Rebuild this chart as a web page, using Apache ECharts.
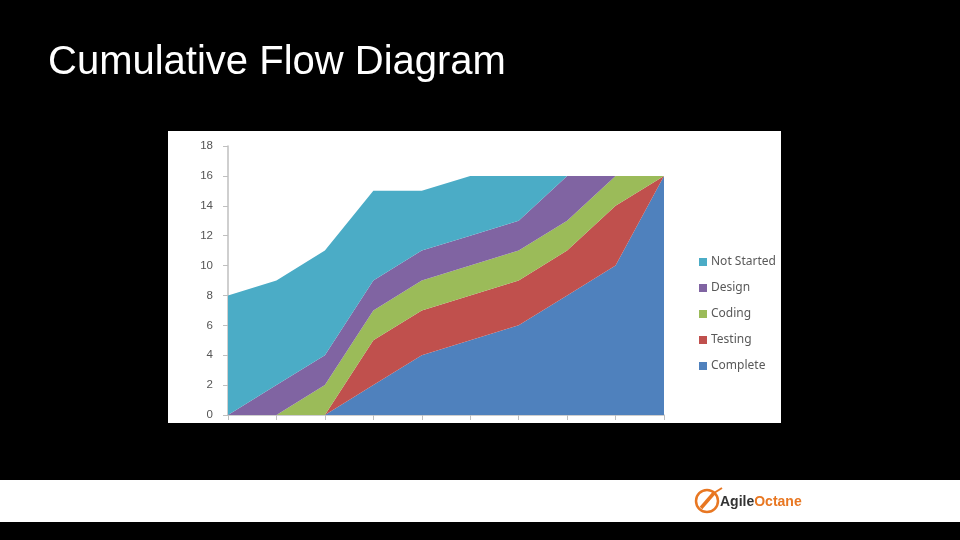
<!DOCTYPE html>
<html>
<head>
<meta charset="utf-8">
<script src="https://cdn.jsdelivr.net/npm/echarts@6/dist/echarts.min.js"></script>
<style>html,body{margin:0;padding:0;background:#000;}#c{width:960px;height:540px;}</style>
</head>
<body>
<div id="c"></div>
<script>
const categories = ['1','2','3','4','5','6','7','8','9','10'];
const complete   = [0, 0, 0, 2, 4, 5, 6, 8, 10, 16];
const testing    = [0, 0, 0, 3, 3, 3, 3, 3, 4, 0];
const coding     = [0, 0, 2, 2, 2, 2, 2, 2, 2, 0];
const design     = [0, 2, 2, 2, 2, 2, 2, 3, 0, 0];
const notStarted = [8, 7, 7, 6, 4, 4, 3, 0, 0, 0];
const yTicks = [0, 2, 4, 6, 8, 10, 12, 14, 16, 18];

const chart = echarts.init(document.getElementById('c'), null, {renderer: 'canvas'});
function area(name, data, color) {
  return {
    name: name, type: 'line', stack: 'total', data: data,
    symbol: 'none', smooth: false,
    lineStyle: {width: 0, color: color},
    itemStyle: {color: color},
    areaStyle: {color: color, opacity: 1},
    emphasis: {disabled: true}
  };
}
chart.setOption({
  backgroundColor: '#000000',
  animation: false,
  graphic: [
    {type: 'rect', shape: {x: 168, y: 131, width: 613, height: 292}, style: {fill: '#ffffff'}, z: -10},
    {type: 'rect', shape: {x: 0, y: 480, width: 960, height: 42}, style: {fill: '#ffffff'}, z: -10},
    {type: 'text', x: 48, y: 63, style: {text: 'Cumulative Flow Diagram', fill: '#ffffff', font: '40px "Liberation Sans", Arial, sans-serif', verticalAlign: 'middle'}},
    {type: 'circle', shape: {cx: 707, cy: 501, r: 11}, style: {fill: 'none', stroke: '#E87722', lineWidth: 2.5}},
    {type: 'line', shape: {x1: 701, y1: 508, x2: 714, y2: 493}, style: {stroke: '#E87722', lineWidth: 3.5}},
    {type: 'line', shape: {x1: 714, y1: 493, x2: 722, y2: 488}, style: {stroke: '#E87722', lineWidth: 2}},
    {type: 'text', x: 720, y: 502, style: {
      text: '{a|Agile}{b|Octane}', verticalAlign: 'middle',
      rich: {
        a: {fill: '#333333', font: 'bold 14px "Liberation Sans", Arial, sans-serif'},
        b: {fill: '#E87722', font: 'bold 14px "Liberation Sans", Arial, sans-serif'}
      }
    }}
  ],
  grid: {left: 228, right: 296, top: 146, bottom: 125, containLabel: false},
  legend: {
    orient: 'vertical', left: 694, top: 250,
    itemWidth: 8, itemHeight: 8, itemGap: 12,
    icon: 'rect',
    data: ['Not Started', 'Design', 'Coding', 'Testing', 'Complete'],
    textStyle: {color: '#595959', fontSize: 12, fontFamily: '"Noto Sans", "Open Sans", sans-serif', lineHeight: 14, padding: [0,0,0,-1]},
    selectedMode: false
  },
  xAxis: {
    type: 'category', data: categories, boundaryGap: false,
    axisLine: {show: true, lineStyle: {color: '#BFBFBF', width: 1.5}},
    axisTick: {show: true, alignWithLabel: true, length: 5, lineStyle: {color: '#BFBFBF'}},
    axisLabel: {show: false},
    splitLine: {show: false}
  },
  yAxis: {
    type: 'value', min: 0, max: 18, interval: 2,
    axisLine: {show: true, lineStyle: {color: '#BFBFBF', width: 1.5}},
    axisTick: {show: true, length: 5, lineStyle: {color: '#BFBFBF'}},
    axisLabel: {color: '#555555', fontSize: 11.5, margin: 15, fontFamily: '"Liberation Sans", Arial, sans-serif',
      formatter: function (v) { return yTicks.indexOf(v) >= 0 ? String(v) : ''; }},
    splitLine: {show: false}
  },
  series: [
    area('Complete', complete, '#4F81BD'),
    area('Testing', testing, '#C0504D'),
    area('Coding', coding, '#9BBB59'),
    area('Design', design, '#8064A2'),
    area('Not Started', notStarted, '#4BACC6')
  ]
});
</script>
</body>
</html>
